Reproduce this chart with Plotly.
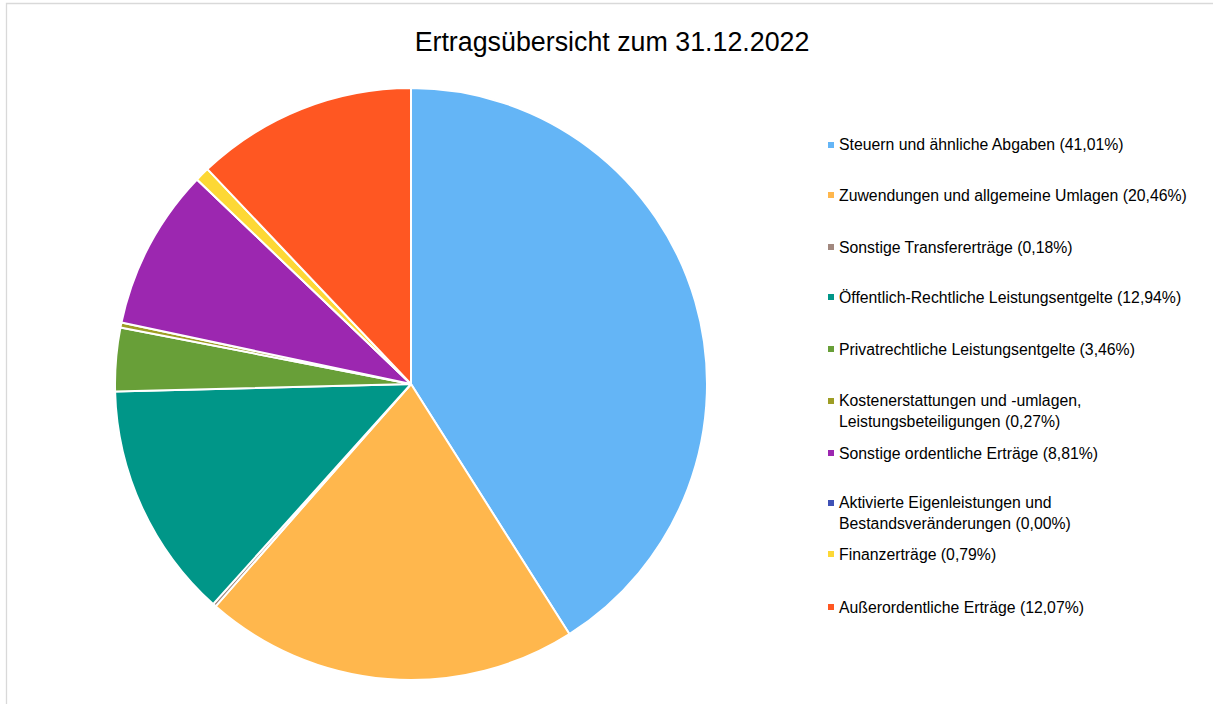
import plotly.graph_objects as go

W, H = 1213, 704

title = "Ertragsübersicht zum 31.12.2022"
categories = [
    "Steuern und ähnliche Abgaben",
    "Zuwendungen und allgemeine Umlagen",
    "Sonstige Transfererträge",
    "Öffentlich-Rechtliche Leistungsentgelte",
    "Privatrechtliche Leistungsentgelte",
    "Kostenerstattungen und -umlagen,<br>Leistungsbeteiligungen",
    "Sonstige ordentliche Erträge",
    "Aktivierte Eigenleistungen und<br>Bestandsveränderungen",
    "Finanzerträge",
    "Außerordentliche Erträge",
]
shares = [41.01, 20.46, 0.18, 12.94, 3.46, 0.27, 8.81, 0.00, 0.79, 12.07]
colors = ["#64B5F6", "#FFB74D", "#A1887F", "#009688", "#689F38",
          "#9E9D24", "#9C27B0", "#3F51B5", "#FDD835", "#FF5722"]

# legend layout (pixel y of first text line of each entry)
legend_first_line_y = [145, 195, 247, 297, 349, 401, 453, 503, 554, 607]
line_h = 19


def px(x):
    return x / W


def py(y):
    return 1 - y / H


fig = go.Figure()
fig.add_trace(go.Pie(
    labels=[c.replace("<br>", " ") for c in categories],
    values=shares,
    sort=False,
    direction="clockwise",
    rotation=0,
    marker=dict(colors=colors, line=dict(color="white", width=2)),
    textinfo="none",
    hoverinfo="label+percent",
    showlegend=False,
    domain=dict(x=[px(115), px(707)], y=[py(680), py(88)]),
))

annotations = []
shapes = []
for cat, val, col, y0 in zip(categories, shares, colors, legend_first_line_y):
    n_lines = cat.count("<br>") + 1
    text = cat + " (" + f"{val:.2f}".replace(".", ",") + "%)"
    yc = y0 + (n_lines - 1) * line_h / 2
    annotations.append(dict(
        text=text, x=px(837), y=py(yc), xref="paper", yref="paper",
        xanchor="left", yanchor="middle", align="left", showarrow=False,
        font=dict(family="Liberation Sans, Arial", size=15.8, color="#000000"),
    ))
    shapes.append(dict(
        type="rect", xref="paper", yref="paper",
        x0=px(828), x1=px(834), y0=py(y0 + 3), y1=py(y0 - 3),
        fillcolor=col, line=dict(width=0),
    ))

shapes.append(dict(
    type="rect", xref="paper", yref="paper",
    x0=px(6.5), x1=px(1220), y0=py(710), y1=py(3.5),
    line=dict(color="#d9d9d9", width=1.3), fillcolor="rgba(0,0,0,0)",
))

fig.update_layout(
    width=W, height=H,
    margin=dict(l=0, r=0, t=0, b=0),
    paper_bgcolor="white",
    plot_bgcolor="white",
    title=dict(text=title, x=px(612), xanchor="center", y=py(42), yanchor="middle",
               font=dict(family="Liberation Sans, Arial", size=26.8, color="#000000")),
    annotations=annotations,
    shapes=shapes,
)

fig.write_html("out.html", config={"displayModeBar": False},
               post_script="document.body.style.margin='0';document.body.style.overflow='hidden';")
